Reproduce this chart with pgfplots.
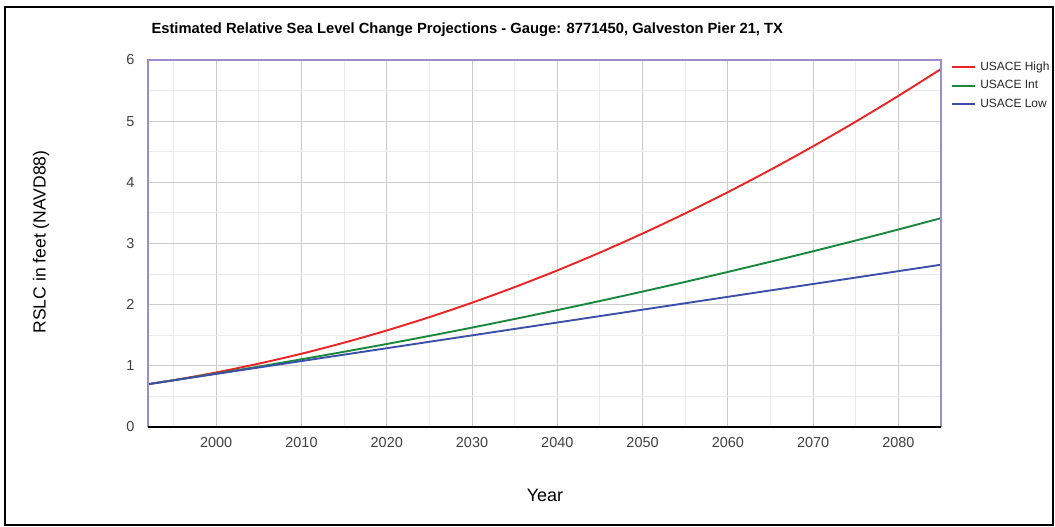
\documentclass[border=0pt]{standalone}
\usepackage{fontspec}
\setmainfont{Liberation Sans}
\usepackage{pgfplots}
\pgfplotsset{compat=1.18}
\definecolor{cRed}{RGB}{235,35,35}
\definecolor{cGreen}{RGB}{25,135,60}
\definecolor{cBlue}{RGB}{60,80,170}
\definecolor{cAxis}{RGB}{155,140,205}
\begin{document}
\begin{tikzpicture}[x=1bp,y=1bp]
\useasboundingbox (-148,-100) rectangle (907,427);
\draw[line width=2bp] (-143,-98.5) rectangle (905,420);
\node[anchor=west, font=\fontsize{14.8}{17}\selectfont\bfseries] at (0,397) {Estimated Relative Sea Level Change Projections - Gauge: 8771450, Galveston Pier 21, TX};
\node[rotate=90, font=\fontsize{17.6}{20}\selectfont] at (-107,185) {RSLC in feet (NAVD88)};
\node[font=\fontsize{18}{20}\selectfont] at (397,-68) {Year};
\begin{axis}[
  at={(0,0)}, anchor=south west,
  scale only axis, width=793bp, height=367bp,
  xmin=1992, xmax=2085, ymin=0, ymax=6,
  xtick={2000,2010,...,2080}, minor xtick={1995,2005,...,2085},
  ytick={0,1,...,6}, minor ytick={0.5,1.5,...,5.5},
  minor tick num=0,
  grid=both,
  major grid style={draw=black!20, line width=1bp},
  minor grid style={draw=black!8, line width=1bp},
  major tick length=0pt, minor tick length=0pt,
  axis line style={draw=none},
  /pgf/number format/1000 sep={},
  /pgf/number format/assume math mode=true,
  xticklabel style={font=\fontsize{14.5}{16}\selectfont, text=black!75, yshift=-7bp},
  yticklabel style={font=\fontsize{14.5}{16}\selectfont, text=black!75, xshift=-10bp},
  legend style={at={(1.009,1.006)}, anchor=north west, draw=none, fill=none,
    font=\fontsize{12}{14}\selectfont, row sep=4.5bp, text=black!85},
  legend cell align=left,
  legend image code/.code={\draw[#1, line width=2bp] (0bp,0bp) -- (23bp,0bp);},
  legend style={nodes={inner xsep=4bp}},
  clip=false,
]
\addplot[cRed, line width=1.9bp, smooth] coordinates {
(1992,0.700) (1995,0.766) (2000,0.892) (2005,1.036) (2010,1.198) (2015,1.379)
(2020,1.578) (2025,1.796) (2030,2.032) (2035,2.287) (2040,2.560) (2045,2.852)
(2050,3.163) (2055,3.492) (2060,3.839) (2065,4.205) (2070,4.589) (2075,4.992)
(2080,5.413) (2085,5.853)};
\addlegendentry{USACE High}
\addplot[cGreen, line width=1.9bp, smooth] coordinates {
(1992,0.700) (1995,0.764) (2000,0.874) (2005,0.988) (2010,1.107) (2015,1.230)
(2020,1.357) (2025,1.489) (2030,1.625) (2035,1.766) (2040,1.911) (2045,2.060)
(2050,2.214) (2055,2.372) (2060,2.535) (2065,2.702) (2070,2.873) (2075,3.049)
(2080,3.229) (2085,3.414)};
\addlegendentry{USACE Int}
\addplot[cBlue, line width=1.9bp, smooth] coordinates {
(1992,0.700) (1995,0.763) (2000,0.868) (2005,0.973) (2010,1.078) (2015,1.183)
(2020,1.288) (2025,1.393) (2030,1.498) (2035,1.603) (2040,1.708) (2045,1.813)
(2050,1.918) (2055,2.023) (2060,2.128) (2065,2.233) (2070,2.338) (2075,2.443)
(2080,2.548) (2085,2.653)};
\addlegendentry{USACE Low}
\draw[cAxis, line width=1.3bp] (rel axis cs:0,0) -- (rel axis cs:0,1) -- (rel axis cs:1,1) -- (rel axis cs:1,0);
\draw[black, line width=2bp] (rel axis cs:0,0) -- (rel axis cs:1,0);
\end{axis}
\end{tikzpicture}
\end{document}
